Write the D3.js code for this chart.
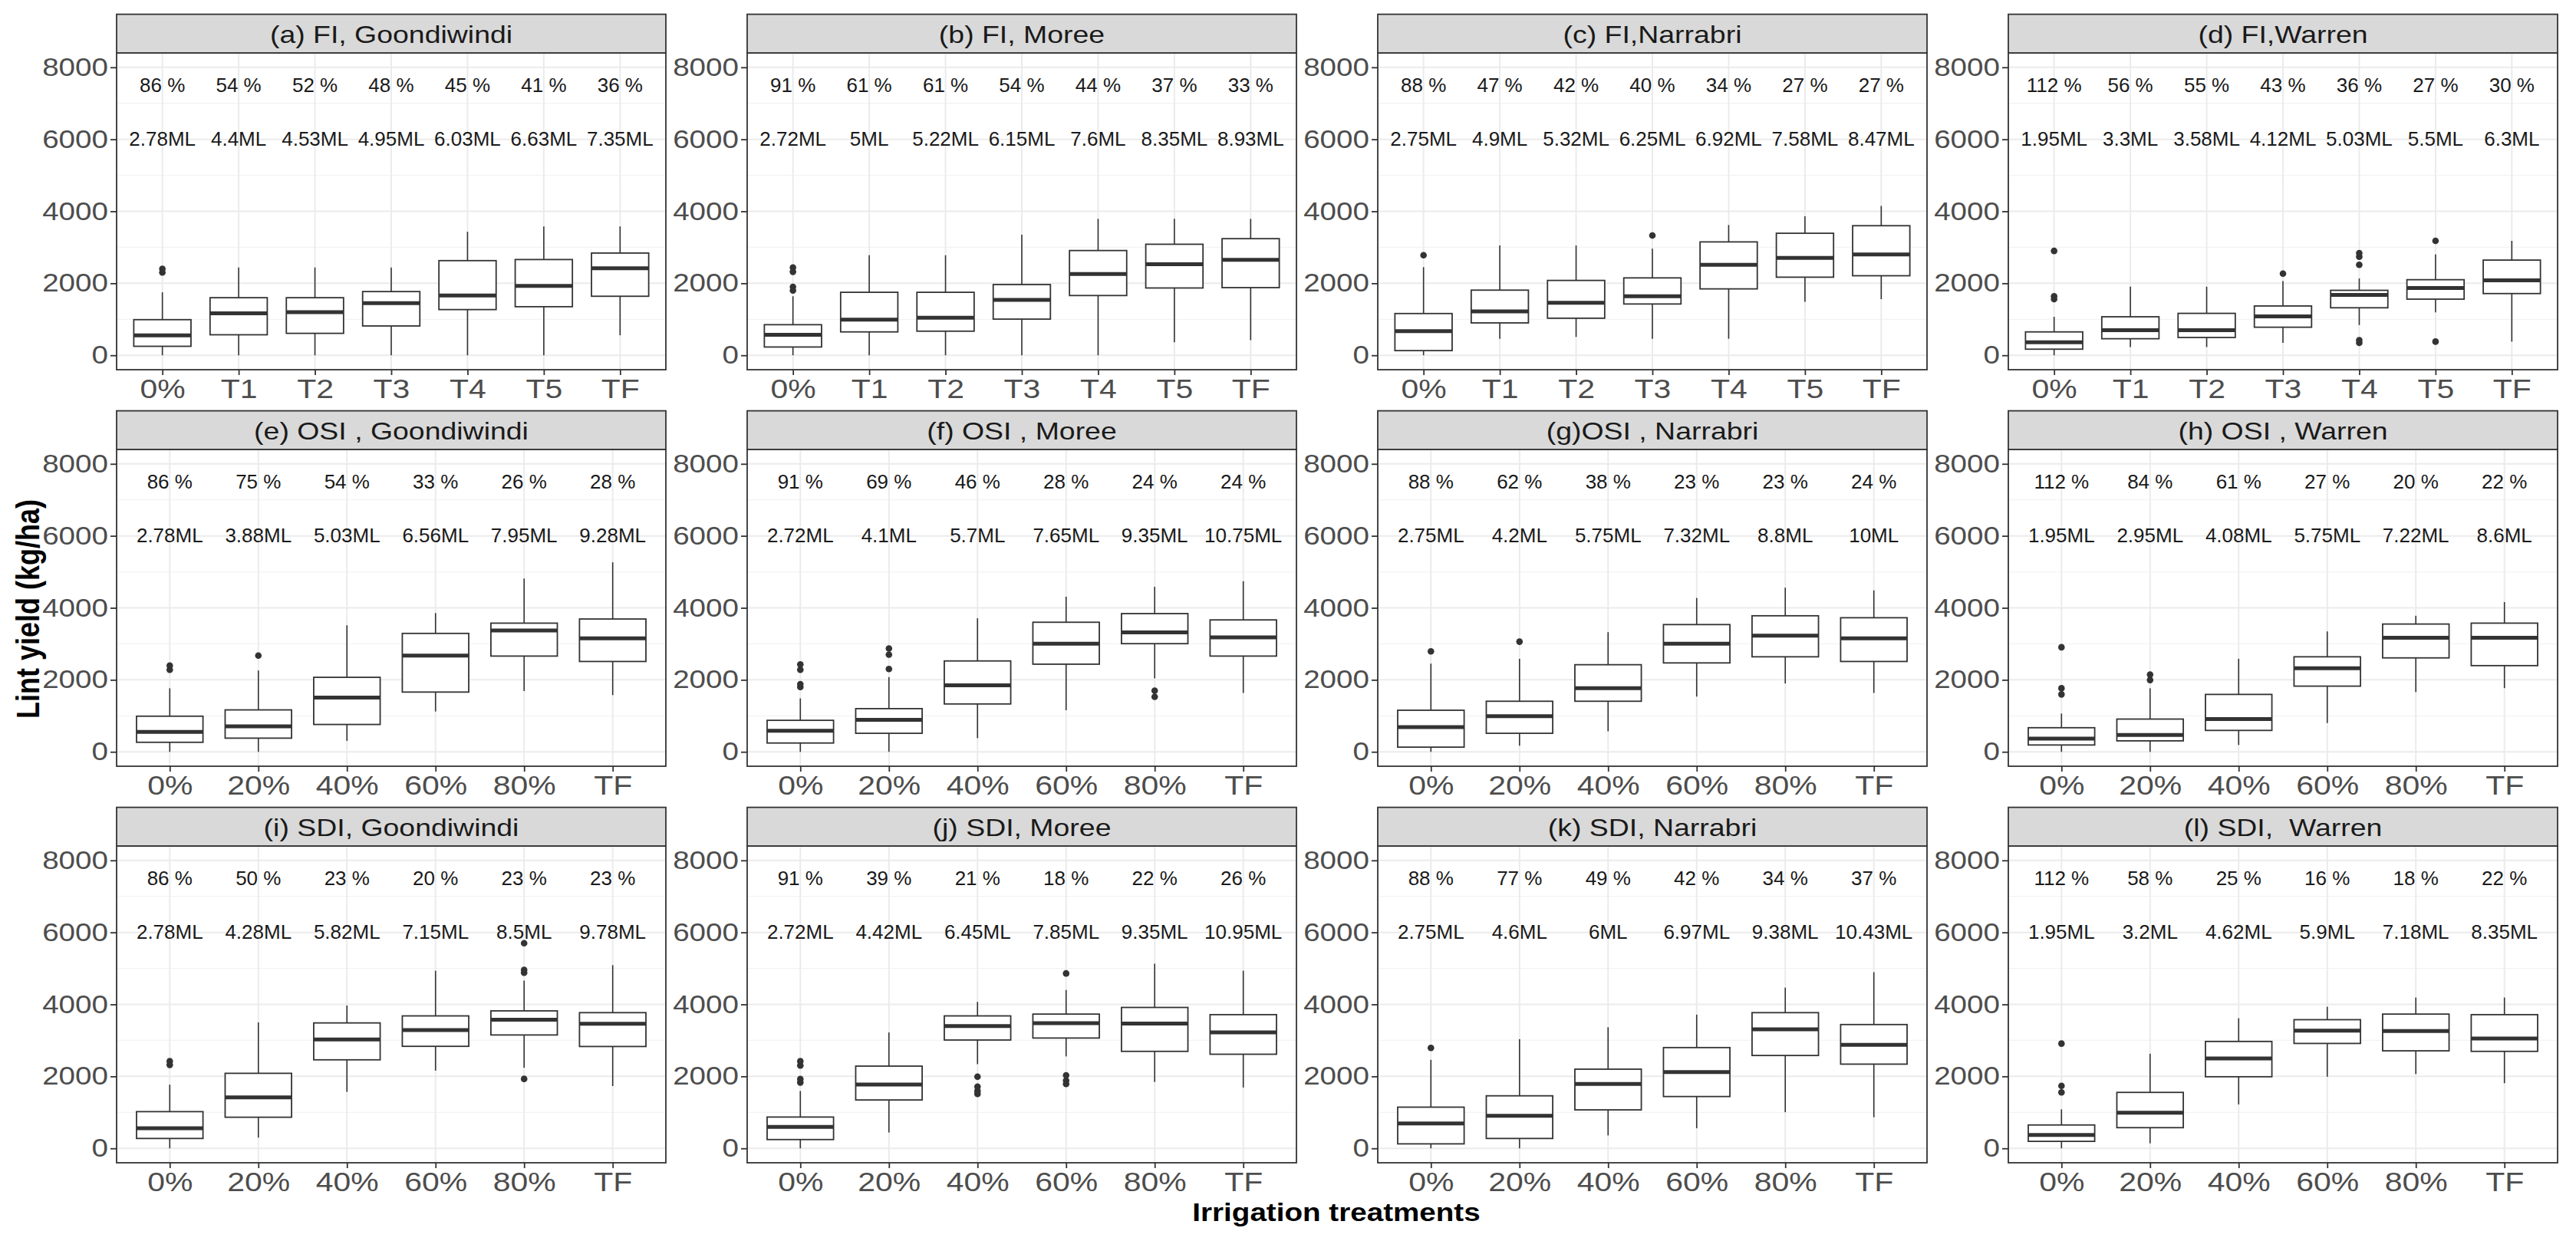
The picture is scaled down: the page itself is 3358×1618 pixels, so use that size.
<!DOCTYPE html>
<html>
<head>
<meta charset="utf-8">
<script src="https://cdn.jsdelivr.net/npm/d3@7"></script>
<style>
  html, body { margin: 0; padding: 0; background: #ffffff; }
  svg { display: block; font-family: "Liberation Sans", Arial, sans-serif; }
</style>
</head>
<body>
<svg id="chart" width="3358" height="1618"></svg>
<script>
// ---------------- DATA ----------------
const panelTitles = [
  "(a) FI, Goondiwindi", "(b) FI, Moree", "(c) FI,Narrabri", "(d) FI,Warren",
  "(e) OSI , Goondiwindi", "(f) OSI , Moree", "(g)OSI , Narrabri", "(h) OSI , Warren",
  "(i) SDI, Goondiwindi", "(j) SDI, Moree", "(k) SDI, Narrabri", "(l) SDI,  Warren"
];
const catsFI = ["0%", "T1", "T2", "T3", "T4", "T5", "TF"];
const catsDef = ["0%", "20%", "40%", "60%", "80%", "TF"];
const yTicks = [0, 2000, 4000, 6000, 8000];

const lowWhisker = [
  [0, 0, 0, 0, 0, 0, 555],
  [0, 0, 0, 0, 0, 360, 420],
  [0, 460, 510, 460, 460, 1485, 1560],
  [0, 230, 230, 345, 840, 1195, 380],
  [0, 0, 305, 1120, 1690, 1575],
  [0, 0, 380, 1155, 2040, 1635],
  [0, 170, 570, 1535, 1900, 1635],
  [0, 0, 190, 800, 1660, 1770],
  [0, 300, 1570, 2160, 2240, 1730],
  [0, 440, 2340, 2555, 1845, 1690],
  [0, 0, 360, 560, 1005, 865],
  [0, 140, 1220, 1990, 2065, 1810]
];
const q1 = [
  [250, 570, 610, 815, 1270, 1350, 1640],
  [230, 650, 670, 1005, 1660, 1870, 1880],
  [130, 900, 1030, 1425, 1845, 2170, 2210],
  [170, 460, 495, 780, 1320, 1560, 1715],
  [265, 380, 760, 1660, 2660, 2510],
  [245, 515, 1330, 2435, 3005, 2660],
  [130, 515, 1405, 2470, 2640, 2510],
  [190, 305, 595, 1825, 2610, 2395],
  [275, 865, 2460, 2835, 3150, 2830],
  [245, 1345, 3010, 3065, 2695, 2615],
  [125, 275, 1070, 1440, 2580, 2340],
  [195, 575, 1990, 2915, 2710, 2695]
];
const median = [
  [555, 1165, 1200, 1450, 1660, 1930, 2420],
  [570, 990, 1045, 1540, 2260, 2530, 2650],
  [670, 1220, 1460, 1640, 2515, 2705, 2800],
  [360, 700, 700, 1080, 1675, 1870, 2080],
  [555, 707, 1505, 2675, 3370, 3155],
  [585, 890, 1850, 3005, 3320, 3180],
  [685, 990, 1770, 3005, 3230, 3155],
  [365, 470, 910, 2320, 3170, 3170],
  [560, 1415, 3025, 3285, 3575, 3460],
  [595, 1775, 3400, 3480, 3465, 3220],
  [690, 905, 1790, 2120, 3310, 2875],
  [375, 990, 2500, 3270, 3260, 3050]
];
const q3 = [
  [990, 1600, 1600, 1770, 2630, 2660, 2840],
  [850, 1750, 1750, 1965, 2910, 3085, 3240],
  [1160, 1810, 2080, 2150, 3150, 3390, 3600],
  [650, 1070, 1165, 1370, 1805, 2100, 2645],
  [990, 1165, 2070, 3290, 3575, 3690],
  [875, 1200, 2525, 3600, 3840, 3665],
  [1155, 1405, 2420, 3535, 3780, 3725],
  [670, 910, 1595, 2640, 3550, 3575],
  [1020, 2085, 3485, 3680, 3820, 3770],
  [870, 2285, 3680, 3730, 3915, 3715],
  [1145, 1460, 2200, 2800, 3770, 3440],
  [650, 1555, 2970, 3575, 3730, 3715]
];
const highWhisker = [
  [1750, 2440, 2440, 2440, 3430, 3580, 3580],
  [1640, 2780, 2780, 3350, 3790, 3790, 3790],
  [2450, 3050, 3050, 2960, 3620, 3860, 4150],
  [1070, 1905, 1905, 2060, 2135, 2800, 3180],
  [1765, 2260, 3515, 3855, 4815, 5265],
  [1485, 2075, 3710, 4310, 4585, 4740],
  [2450, 2585, 3325, 4275, 4560, 4485],
  [1065, 1765, 2585, 3345, 3780, 4160],
  [1770, 3500, 3970, 4935, 4660, 5090],
  [1595, 3220, 4070, 4400, 5130, 4935],
  [2460, 3035, 3365, 3715, 4465, 4895],
  [1085, 2630, 3615, 3935, 4190, 4190]
];
const outliers = [
  [[2300, 2400], [], [], [], [], [], []],
  [[1800, 1900, 2320, 2440], [], [], [], [], [], []],
  [[2780], [], [], [3330], [], [], []],
  [[1560, 1640, 2900], [], [], [2270], [345, 420, 2515, 2740, 2840], [380, 3180], []],
  [[2280, 2395], [2675], [], [], [], []],
  [[1800, 1880, 2280, 2430], [2300, 2700, 2870], [], [], [1530, 1700], []],
  [[2790], [3060], [], [], [], []],
  [[1595, 1765, 2905], [1995, 2145], [], [], [], []],
  [[2320, 2420], [], [], [], [1930, 4880, 4960, 5700], []],
  [[1830, 1925, 2300, 2420], [], [1515, 1595, 1715, 1990], [1790, 1885, 2030, 4860], [], []],
  [[2790], [], [], [], [], []],
  [[1555, 1735, 2910], [], [], [], [], []]
];
const pctLabels = [
  ["86 %", "54 %", "52 %", "48 %", "45 %", "41 %", "36 %"],
  ["91 %", "61 %", "61 %", "54 %", "44 %", "37 %", "33 %"],
  ["88 %", "47 %", "42 %", "40 %", "34 %", "27 %", "27 %"],
  ["112 %", "56 %", "55 %", "43 %", "36 %", "27 %", "30 %"],
  ["86 %", "75 %", "54 %", "33 %", "26 %", "28 %"],
  ["91 %", "69 %", "46 %", "28 %", "24 %", "24 %"],
  ["88 %", "62 %", "38 %", "23 %", "23 %", "24 %"],
  ["112 %", "84 %", "61 %", "27 %", "20 %", "22 %"],
  ["86 %", "50 %", "23 %", "20 %", "23 %", "23 %"],
  ["91 %", "39 %", "21 %", "18 %", "22 %", "26 %"],
  ["88 %", "77 %", "49 %", "42 %", "34 %", "37 %"],
  ["112 %", "58 %", "25 %", "16 %", "18 %", "22 %"]
];
const mlLabels = [
  ["2.78ML", "4.4ML", "4.53ML", "4.95ML", "6.03ML", "6.63ML", "7.35ML"],
  ["2.72ML", "5ML", "5.22ML", "6.15ML", "7.6ML", "8.35ML", "8.93ML"],
  ["2.75ML", "4.9ML", "5.32ML", "6.25ML", "6.92ML", "7.58ML", "8.47ML"],
  ["1.95ML", "3.3ML", "3.58ML", "4.12ML", "5.03ML", "5.5ML", "6.3ML"],
  ["2.78ML", "3.88ML", "5.03ML", "6.56ML", "7.95ML", "9.28ML"],
  ["2.72ML", "4.1ML", "5.7ML", "7.65ML", "9.35ML", "10.75ML"],
  ["2.75ML", "4.2ML", "5.75ML", "7.32ML", "8.8ML", "10ML"],
  ["1.95ML", "2.95ML", "4.08ML", "5.75ML", "7.22ML", "8.6ML"],
  ["2.78ML", "4.28ML", "5.82ML", "7.15ML", "8.5ML", "9.78ML"],
  ["2.72ML", "4.42ML", "6.45ML", "7.85ML", "9.35ML", "10.95ML"],
  ["2.75ML", "4.6ML", "6ML", "6.97ML", "9.38ML", "10.43ML"],
  ["1.95ML", "3.2ML", "4.62ML", "5.9ML", "7.18ML", "8.35ML"]
];
const pctLabelY = 7500;
const mlLabelY = 6000;
const xTitle = "Irrigation treatments";
const yTitle = "Lint yield (kg/ha)";

// ---------------- LAYOUT ----------------
const SX = 1.17;             // horizontal text stretch seen in the reference
const SXA = 1.04;            // annotations are narrower
const panelW = 716, plotH = 413, stripH = 50.4;
const colLeft = c => 152 + c * 822;
const stripTop = r => 18.6 + r * 517;
const dark = "#333333";

const svg = d3.select("#chart");
svg.append("rect").attr("width", 3358).attr("height", 1618).attr("fill", "#ffffff");

panelTitles.forEach((title, p) => {
  const r = Math.floor(p / 4), c = p % 4;
  const cats = r === 0 ? catsFI : catsDef;
  const left = colLeft(c);
  const sTop = stripTop(r);
  const top = sTop + stripH;
  const bottom = top + plotH;

  const x = d3.scalePoint().domain(cats).range([left, left + panelW]).padding(0.6);
  const y = d3.scaleLinear().domain([-400, 8400]).range([bottom, top]);
  const half = x.step() * 0.375;

  const g = svg.append("g");

  g.append("rect").attr("x", left).attr("y", top).attr("width", panelW).attr("height", plotH)
    .attr("fill", "#ffffff");

  // minor grid
  g.selectAll(".minor").data([1000, 3000, 5000, 7000]).enter().append("line")
    .attr("x1", left).attr("x2", left + panelW)
    .attr("y1", d => y(d)).attr("y2", d => y(d))
    .attr("stroke", "#f3f3f3").attr("stroke-width", 1.2);
  // major grid
  g.selectAll(".major").data(yTicks).enter().append("line")
    .attr("x1", left).attr("x2", left + panelW)
    .attr("y1", d => y(d)).attr("y2", d => y(d))
    .attr("stroke", "#ebebeb").attr("stroke-width", 2);
  g.selectAll(".vgrid").data(cats).enter().append("line")
    .attr("x1", d => x(d)).attr("x2", d => x(d))
    .attr("y1", top).attr("y2", bottom)
    .attr("stroke", "#ebebeb").attr("stroke-width", 2);

  // annotations
  const ann = g.append("g");
  cats.forEach((cat, i) => {
    ann.append("text")
      .attr("transform", `translate(${x(cat)},${y(pctLabelY)}) scale(${SXA},1)`)
      .attr("text-anchor", "middle").attr("dominant-baseline", "central")
      .attr("font-size", 25).attr("fill", "#1a1a1a")
      .text(pctLabels[p][i]);
    ann.append("text")
      .attr("transform", `translate(${x(cat)},${y(mlLabelY)}) scale(${SXA},1)`)
      .attr("text-anchor", "middle").attr("dominant-baseline", "central")
      .attr("font-size", 25).attr("fill", "#1a1a1a")
      .text(mlLabels[p][i]);
  });

  // boxplots
  const rows = cats.map((cat, i) => ({
    cat, lo: lowWhisker[p][i], q1: q1[p][i], med: median[p][i],
    q3: q3[p][i], hi: highWhisker[p][i], out: outliers[p][i]
  }));
  const bx = g.append("g");
  bx.selectAll(".wl").data(rows).enter().append("line")
    .attr("x1", d => x(d.cat)).attr("x2", d => x(d.cat))
    .attr("y1", d => y(d.q1)).attr("y2", d => y(d.lo))
    .attr("stroke", dark).attr("stroke-width", 1.6);
  bx.selectAll(".wh").data(rows).enter().append("line")
    .attr("x1", d => x(d.cat)).attr("x2", d => x(d.cat))
    .attr("y1", d => y(d.q3)).attr("y2", d => y(d.hi))
    .attr("stroke", dark).attr("stroke-width", 1.6);
  bx.selectAll(".box").data(rows).enter().append("rect")
    .attr("x", d => x(d.cat) - half).attr("width", half * 2)
    .attr("y", d => y(d.q3)).attr("height", d => y(d.q1) - y(d.q3))
    .attr("fill", "#ffffff").attr("stroke", dark).attr("stroke-width", 1.8);
  bx.selectAll(".med").data(rows).enter().append("line")
    .attr("x1", d => x(d.cat) - half).attr("x2", d => x(d.cat) + half)
    .attr("y1", d => y(d.med)).attr("y2", d => y(d.med))
    .attr("stroke", dark).attr("stroke-width", 5);
  const pts = [];
  rows.forEach(d => d.out.forEach(v => pts.push({ cat: d.cat, v })));
  bx.selectAll(".out").data(pts).enter().append("circle")
    .attr("cx", d => x(d.cat)).attr("cy", d => y(d.v)).attr("r", 4.3)
    .attr("fill", dark);

  // border
  g.append("rect").attr("x", left).attr("y", top).attr("width", panelW).attr("height", plotH)
    .attr("fill", "none").attr("stroke", dark).attr("stroke-width", 1.8);

  // strip
  g.append("rect").attr("x", left).attr("y", sTop).attr("width", panelW).attr("height", stripH)
    .attr("fill", "#d9d9d9").attr("stroke", dark).attr("stroke-width", 1.8);
  g.append("text")
    .attr("transform", `translate(${left + panelW / 2},${sTop + stripH / 2 + 1}) scale(${SX},1)`)
    .attr("text-anchor", "middle").attr("dominant-baseline", "central")
    .attr("font-size", 32).attr("fill", "#1a1a1a")
    .style("white-space", "pre")
    .text(title);

  // axes
  const yAxis = g.append("g").attr("transform", `translate(${left},0)`)
    .call(d3.axisLeft(y).tickValues(yTicks).tickSize(8).tickPadding(3).tickFormat(d3.format("d")));
  const xAxis = g.append("g").attr("transform", `translate(0,${bottom})`)
    .call(d3.axisBottom(x).tickSize(7).tickPadding(5));
  [yAxis, xAxis].forEach(a => {
    a.select(".domain").remove();
    a.selectAll(".tick line").attr("stroke", dark).attr("stroke-width", 1.8);
    a.selectAll(".tick text").attr("fill", "#4d4d4d")
      .attr("font-family", "Liberation Sans, Arial, sans-serif");
  });
  yAxis.selectAll(".tick text").attr("font-size", 33).each(function() {
    const t = d3.select(this);
    const xx = +t.attr("x");
    t.attr("x", xx / SX).attr("transform", `scale(${SX},1)`);
  });
  xAxis.selectAll(".tick text").attr("font-size", 35).attr("transform", `scale(${SX},1)`);
});

// axis titles
svg.append("text")
  .attr("transform", `translate(1742,1592) scale(${SX},1)`)
  .attr("text-anchor", "middle")
  .attr("font-size", 33).attr("font-weight", "bold").attr("fill", "#000000")
  .text(xTitle);
svg.append("text")
  .attr("transform", `translate(36,794) rotate(-90) scale(1,${SX})`)
  .attr("text-anchor", "middle").attr("dominant-baseline", "central")
  .attr("font-size", 36).attr("font-weight", "bold").attr("fill", "#000000")
  .text(yTitle);
</script>
</body>
</html>
